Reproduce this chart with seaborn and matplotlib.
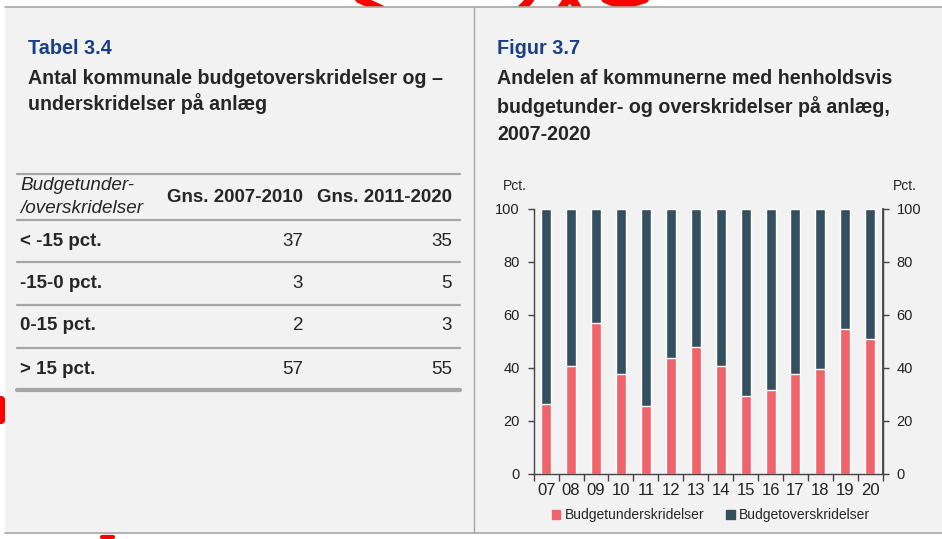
import numpy as np
import pandas as pd
import seaborn as sns
import matplotlib.pyplot as plt
from matplotlib.patches import Rectangle, Patch
from matplotlib.lines import Line2D

# data
years = ["07", "08", "09", "10", "11", "12", "13", "14", "15", "16", "17", "18", "19", "20"]
under = [26.3, 40.8, 57.1, 37.6, 25.4, 43.8, 47.8, 40.8, 29.4, 31.8, 37.6, 39.6, 54.8, 50.8]
total = [100] * len(years)

row_labels = ["< -15 pct.", "-15-0 pct.", "0-15 pct.", "> 15 pct."]
gns_2007_2010 = [37, 3, 2, 57]
gns_2011_2020 = [35, 5, 3, 55]

PINK = "#f0636b"
DARK = "#34505f"
BLUE = "#1b3f86"
BG = "#f2f2f2"
GRID = "#a6a6a6"

sns.set_theme(style="white")
plt.rcParams["font.family"] = ["Liberation Sans", "DejaVu Sans"]

W, H = 942, 539
fig = plt.figure(figsize=(W / 100, H / 100), dpi=100)
fig.patch.set_facecolor("white")


def fx(px):
    return px / W


def fy(py):
    return 1 - py / H


# red annotation scribbles (behind panel)
red_kw = dict(color="#ff0000", lw=6, solid_capstyle="round", transform=fig.transFigure, zorder=0)
fig.add_artist(Line2D([fx(357), fx(381)], [fy(-2), fy(9)], **red_kw))
fig.add_artist(Line2D([fx(521), fx(527), fx(531)], [fy(9), fy(3), fy(-2)], **red_kw))
fig.add_artist(Line2D([fx(561), fx(567), fx(573), fx(578)], [fy(9), fy(0), fy(0), fy(9)], **red_kw))
fig.add_artist(Line2D([fx(603), fx(615), fx(632), fx(648)], [fy(-2), fy(3), fy(3), fy(-2)], **red_kw))
fig.add_artist(Line2D([fx(1), fx(1)], [fy(400), fy(420)], **red_kw))
fig.add_artist(Line2D([fx(102), fx(113)], [fy(537), fy(537)], color="#ff0000", lw=3,
                      transform=fig.transFigure, zorder=0))

# panel
fig.add_artist(Rectangle((fx(5), fy(533)), fx(937), fy(7) - fy(533),
                         transform=fig.transFigure, facecolor=BG, edgecolor="none", zorder=1))
fig.add_artist(Line2D([fx(5), fx(942)], [fy(7), fy(7)], color=GRID, lw=1.2, transform=fig.transFigure, zorder=2))
fig.add_artist(Line2D([fx(5), fx(942)], [fy(533), fy(533)], color=GRID, lw=1.2, transform=fig.transFigure, zorder=2))
fig.add_artist(Line2D([fx(474), fx(474)], [fy(7), fy(533)], color=GRID, lw=1, transform=fig.transFigure, zorder=2))

# left titles
fig.text(fx(28), fy(48), "Tabel 3.4", color=BLUE, fontsize=14.3, fontweight="bold", va="center", zorder=3)
fig.text(fx(28), fy(79), "Antal kommunale budgetoverskridelser og –", fontsize=14.1,
         fontweight="bold", va="center", zorder=3)
fig.text(fx(28), fy(104), "underskridelser på anlæg", fontsize=14.1, fontweight="bold", va="center", zorder=3)

# right titles
fig.text(fx(497), fy(48), "Figur 3.7", color=BLUE, fontsize=14.3, fontweight="bold", va="center", zorder=3)
for i, line in enumerate(["Andelen af kommunerne med henholdsvis",
                          "budgetunder- og overskridelser på anlæg,",
                          "2007-2020"]):
    fig.text(fx(497), fy(79 + 27.5 * i), line, fontsize=14.1, fontweight="bold", va="center", zorder=3)

# table
for y, lw in [(174, 1.6), (220, 1.6), (262, 1.6), (305, 1.6), (347.5, 1.6), (390, 3)]:
    fig.add_artist(Line2D([fx(17), fx(460)], [fy(y), fy(y)], color=GRID, lw=lw,
                          transform=fig.transFigure, zorder=2))
fig.text(fx(20), fy(186), "Budgetunder-", fontsize=13.6, style="italic", va="center", zorder=3)
fig.text(fx(20), fy(208), "/overskridelser", fontsize=13.6, style="italic", va="center", zorder=3)
fig.text(fx(303), fy(198), "Gns. 2007-2010", fontsize=13.5, fontweight="bold", ha="right", va="center", zorder=3)
fig.text(fx(452), fy(198), "Gns. 2011-2020", fontsize=13.5, fontweight="bold", ha="right", va="center", zorder=3)
row_y = [241, 284, 326, 369]
for y, lab, a, b in zip(row_y, row_labels, gns_2007_2010, gns_2011_2020):
    fig.text(fx(20), fy(y), lab, fontsize=13.5, fontweight="bold", va="center", zorder=3)
    fig.text(fx(303), fy(y), str(a), fontsize=13.5, ha="right", va="center", zorder=3)
    fig.text(fx(452), fy(y), str(b), fontsize=13.5, ha="right", va="center", zorder=3)

# bar chart
ax = fig.add_axes([fx(533.7), fy(473.7), fx(882.7 - 533.7), fy(209) - fy(473.7)])
ax.set_zorder(4)
ax.patch.set_alpha(0)
df = pd.DataFrame({"year": years, "under": under, "total": total})
sns.barplot(data=df, x="year", y="total", color=DARK, saturation=1, width=0.4, ax=ax)
sns.barplot(data=df, x="year", y="under", color=PINK, saturation=1, width=0.4, ax=ax)
ax.set_xlim(-0.5, len(years) - 0.5)
ax.set_ylim(0, 100)
ax.set_yticks([0, 20, 40, 60, 80, 100])
ax.set_xlabel("")
ax.set_ylabel("")
ax.set_xticks(np.arange(-0.5, len(years)), minor=True)
ax.tick_params(axis="x", which="major", length=0, labelsize=12, pad=7, colors="#222222")
ax.tick_params(axis="x", which="minor", length=5, width=1, color="#444444", direction="out", bottom=True)
ax.tick_params(axis="y", which="major", length=4, width=1, color="#444444", direction="out", left=True,
               labelsize=10.5, pad=6, labelcolor="#222222")
for s in ["left", "bottom", "right"]:
    ax.spines[s].set_visible(True)
    ax.spines[s].set_color("#444444")
    ax.spines[s].set_linewidth(1)
ax.spines["top"].set_visible(False)

ax2 = ax.twinx()
ax2.set_ylim(0, 100)
ax2.set_yticks([0, 20, 40, 60, 80, 100])
ax2.tick_params(axis="y", length=4, width=1, color="#444444", direction="out", right=True,
                labelsize=10.5, pad=6, labelcolor="#222222")
for s in ["left", "top", "bottom"]:
    ax2.spines[s].set_visible(False)
ax2.spines["right"].set_color("#444444")
ax2.grid(False)

fig.text(fx(515), fy(186), "Pct.", fontsize=10, ha="center", va="center", zorder=3)
fig.text(fx(905), fy(186), "Pct.", fontsize=10, ha="center", va="center", zorder=3)

handles = [Patch(color=PINK, label="Budgetunderskridelser"),
           Patch(color=DARK, label="Budgetoverskridelser")]
leg = fig.legend(handles=handles, loc="center", bbox_to_anchor=(fx(711), fy(515)), ncol=2, frameon=False,
                 fontsize=10, handlelength=0.6, handleheight=0.6, handletextpad=0.3, columnspacing=1.6)

fig.savefig("out.png", dpi=100, facecolor="white")
